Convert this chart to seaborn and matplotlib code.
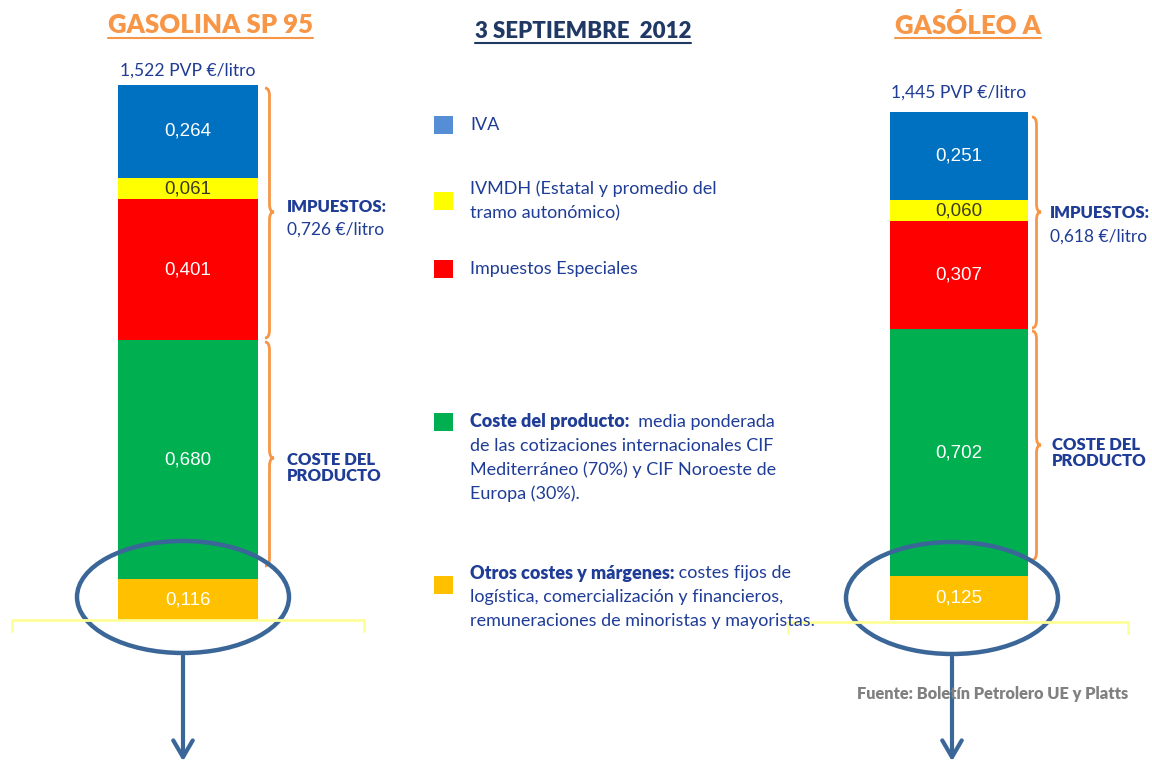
import numpy as np
import pandas as pd
import matplotlib
matplotlib.use("Agg")
import matplotlib.pyplot as plt
from matplotlib.path import Path
from matplotlib.patches import PathPatch, Ellipse, Rectangle
import seaborn as sns

# components from bottom to top
components = ["Otros costes", "Coste del producto", "Impuestos Especiales", "IVMDH", "IVA"]
gasolina = [0.116, 0.680, 0.401, 0.061, 0.264]
gasoleo = [0.125, 0.702, 0.307, 0.060, 0.251]
pvp_gasolina = 1.522
pvp_gasoleo = 1.445
impuestos_gasolina = "0,726"
impuestos_gasoleo = "0,618"

bar_colors = ["#FFC000", "#00B050", "#FF0000", "#FFFF00", "#0070C0"]
legend_colors = ["#558ED5", "#FFFF00", "#FF0000", "#00B050", "#FFC000"]
label_colors = ["white", "white", "white", "#3A3A20", "white"]

NAVY = "#1F3C96"
ORANGE = "#F79646"
W, H = 1152, 766

sns.set_style("white")
plt.rcParams["font.family"] = ["Lato", "DejaVu Sans"]

fig = plt.figure(figsize=(W / 100, H / 100), dpi=100)


def fmt(v):
    return f"{v:.3f}".replace(".", ",")


def stacked_bar(rect, values, name):
    ax = fig.add_axes(rect)
    cum = np.cumsum(values)
    # draw cumulative totals largest first so each segment shows its own colour
    for i in range(len(values) - 1, -1, -1):
        df = pd.DataFrame({"fuel": [name], "value": [cum[i]]})
        sns.barplot(data=df, x="fuel", y="value", color=bar_colors[i], width=1.0,
                    saturation=1, ax=ax, linewidth=0)
    for i, v in enumerate(values):
        ax.text(0, cum[i] - v / 2, fmt(v), ha="center", va="center",
                color=label_colors[i], fontsize=13.5, family=["Liberation Sans"])
    ax.set_xlim(-0.5, 0.5)
    ax.set_ylim(0, pvp_gasolina)
    ax.axis("off")
    return ax


bar_bottom = 620
bar_height = 535
stacked_bar([118 / W, 1 - bar_bottom / H, 140 / W, bar_height / H], gasolina, "Gasolina")
stacked_bar([890 / W, 1 - bar_bottom / H, 138 / W, bar_height / H], gasoleo, "Gasoleo")

# overlay in pixel coordinates
ov = fig.add_axes([0, 0, 1, 1], zorder=5)
ov.set_xlim(0, W)
ov.set_ylim(H, 0)
ov.axis("off")
ov.patch.set_alpha(0)

renderer = fig.canvas.get_renderer()


def extent(t):
    bb = t.get_window_extent(renderer)
    inv = ov.transData.inverted()
    (x0, y0), (x1, y1) = inv.transform([[bb.x0, bb.y0], [bb.x1, bb.y1]])
    return x0, x1, y0, y1


def underlined(x, y, s, color, size, gap=13):
    t = ov.text(x, y, s, ha="center", va="center", color=color, fontsize=size,
                fontweight="heavy")
    x0, x1, _, _ = extent(t)
    ov.plot([x0, x1], [y + gap, y + gap], color=color, lw=1.5)


underlined(210, 25, "GASOLINA SP 95", ORANGE, 18.5)
underlined(583, 31, "3 SEPTIEMBRE  2012", "#1F3864", 16, gap=12)
underlined(968, 25, "GASÓLEO A", ORANGE, 18.5)

ov.text(188, 71, f"{fmt(pvp_gasolina)} PVP €/litro", ha="center", va="center",
        color=NAVY, fontsize=12.6)
ov.text(959, 93, f"{fmt(pvp_gasoleo)} PVP €/litro", ha="center", va="center",
        color=NAVY, fontsize=12.6)


def brace(x, y0, y1, ty, w=9, r=8):
    xm = x + w * 0.5
    xt = x + w
    verts = [(x, y0), (xm, y0), (xm, y0 + r), (xm, ty - r), (xm, ty), (xt, ty),
             (xm, ty), (xm, ty + r), (xm, y1 - r), (xm, y1), (x, y1)]
    codes = [Path.MOVETO, Path.CURVE3, Path.CURVE3, Path.LINETO, Path.CURVE3, Path.CURVE3,
             Path.CURVE3, Path.CURVE3, Path.LINETO, Path.CURVE3, Path.CURVE3]
    ov.add_patch(PathPatch(Path(verts, codes), fill=False, edgecolor=ORANGE, lw=2))


brace(265, 88, 338, 212)
brace(265, 342, 566, 458)
brace(1032, 117, 328, 212)
brace(1032, 331, 560, 445)

ov.text(287, 207, "IMPUESTOS:", color=NAVY, fontsize=12, fontweight="heavy", va="center")
ov.text(287, 230, f"{impuestos_gasolina} €/litro", color=NAVY, fontsize=12.5, va="center")
ov.text(287, 468, "COSTE DEL\nPRODUCTO", color=NAVY, fontsize=12, fontweight="heavy",
        va="center", linespacing=0.95)
ov.text(1050, 213, "IMPUESTOS:", color=NAVY, fontsize=12, fontweight="heavy", va="center")
ov.text(1050, 237, f"{impuestos_gasoleo} €/litro", color=NAVY, fontsize=12.5, va="center")
ov.text(1052, 453, "COSTE DEL\nPRODUCTO", color=NAVY, fontsize=12, fontweight="heavy",
        va="center", linespacing=0.95)

# legend
LS = 13
legend_items = [
    (125, 125, legend_colors[0], "", ["IVA"]),
    (201, 189, legend_colors[1], "", ["IVMDH (Estatal y promedio del", "tramo autonómico)"]),
    (269, 269, legend_colors[2], "", ["Impuestos Especiales"]),
    (422, 422, legend_colors[3], "Coste del producto:", ["  media ponderada",
                                                          "de las cotizaciones internacionales CIF",
                                                          "Mediterráneo (70%) y CIF Noroeste de",
                                                          "Europa (30%)."]),
    (585, 573, legend_colors[4], "Otros costes y márgenes:", [" costes fijos de",
                                                               "logística, comercialización y financieros,",
                                                               "remuneraciones de minoristas y mayoristas."]),
]
for y, first_y, c, bold, lines in legend_items:
    ov.add_patch(Rectangle((434, y - 9), 19, 18, facecolor=c, edgecolor="none"))
    x = 470
    if bold:
        t = ov.text(x, first_y, bold, color=NAVY, fontsize=LS, fontweight="heavy", va="center")
        x = extent(t)[1]
    for k, line in enumerate(lines):
        ov.text(x if k == 0 else 470, first_y + 24 * k, line, color=NAVY, fontsize=LS,
                va="center")

# bottom brackets
for x0, x1, yb in [(12, 364, 620), (788, 1128, 622)]:
    ov.plot([x0, x0, x1, x1], [yb + 11, yb, yb, yb + 11], color="#FFFF99", lw=2)

# ellipses and arrows
EL = "#3A6698"
for cx, cy in [(183, 597), (952, 598)]:
    ov.add_patch(Ellipse((cx, cy), 212, 112, fill=False, edgecolor=EL, lw=3.2))
    ov.annotate("", xy=(cx, 764), xytext=(cx, cy + 56),
                arrowprops=dict(arrowstyle="->,head_length=1.2,head_width=0.7",
                                color=EL, lw=3))

ov.text(1128, 694, "Fuente: Boletín Petrolero UE y Platts", ha="right", va="center",
        color="#808080", fontsize=11.8, fontweight="heavy")

fig.savefig("out.png", dpi=100)
